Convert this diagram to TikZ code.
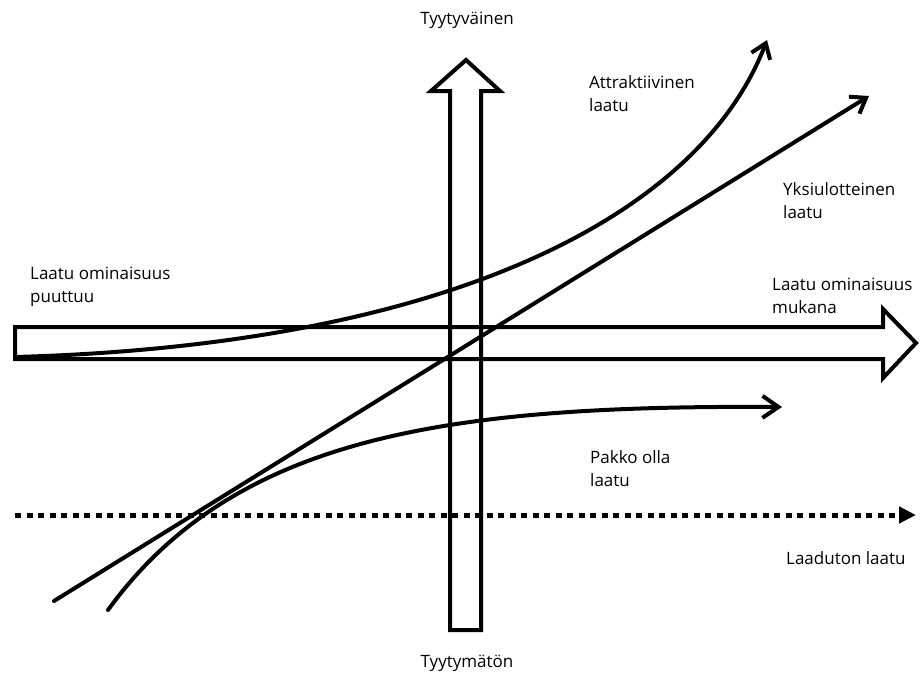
\documentclass[tikz,border=0pt]{standalone}
\usepackage{fontspec}
\setmainfont{Open Sans}
\usetikzlibrary{arrows.meta}
\begin{document}
\begin{tikzpicture}[x=1pt,y=-1pt,
  blockarrow/.style={line width=4pt,line join=miter,draw=black},
  curve/.style={line width=4pt,line cap=round,-{Straight Barb[length=14pt,width=20pt,line width=4pt]}},
  dotline/.style={line width=5pt,dash pattern=on 6pt off 5.5pt,-{Triangle[length=17pt,width=16pt]}},
  lbl/.style={font=\fontsize{17}{23}\selectfont,align=left,inner sep=0pt,anchor=base west},
  clbl/.style={font=\fontsize{17}{23}\selectfont,inner sep=0pt,anchor=base}]
\useasboundingbox (0,0) rectangle (924,675);
\fill[white] (0,0) rectangle (924,675);
% block arrows
\draw[blockarrow] (450,630) -- (450,91) -- (431,91) -- (466,60) -- (500,91) -- (481,91) -- (481,630) -- cycle;
\draw[blockarrow] (15,327) -- (883,327) -- (883,309) -- (916,343) -- (883,378) -- (883,359) -- (15,359) -- cycle;
% endpoints
\coordinate (aS) at (15,357);
\coordinate (aE) at (767,40);
\coordinate (yS) at (54,601);
\coordinate (yE) at (869,96);
\coordinate (pS) at (108,610);
\coordinate (pE) at (782,407);
\coordinate (dS) at (15,515);
\coordinate (dE) at (916,515);
% curves
\draw[curve] (aS) .. controls (450,345) and (700,215) .. (aE);
\draw[curve] (yS) -- (yE);
\draw[curve,-{Straight Barb[length=16pt,width=22pt,line width=4pt]}] (pS) .. controls (235,435) and (450,405) .. (pE);
\draw[dotline] (dS) -- (dE);
% labels (multi-line nodes: base = last line)
\node[clbl] (t1) at (467,24) {Tyytyväinen};
\node[clbl] (t2) at (467,667) {Tyytymätön};
\node[lbl] (l1) at (589,111) {Attraktiivinen\\laatu};
\node[lbl] (l2) at (783,218) {Yksiulotteinen\\laatu};
\node[lbl] (l3) at (30,302) {Laatu ominaisuus\\puuttuu};
\node[lbl] (l4) at (772,313) {Laatu ominaisuus\\mukana};
\node[lbl] (l5) at (590,486) {Pakko olla\\laatu};
\node[lbl] (l6) at (786,564) {Laaduton laatu};
\end{tikzpicture}
\end{document}
